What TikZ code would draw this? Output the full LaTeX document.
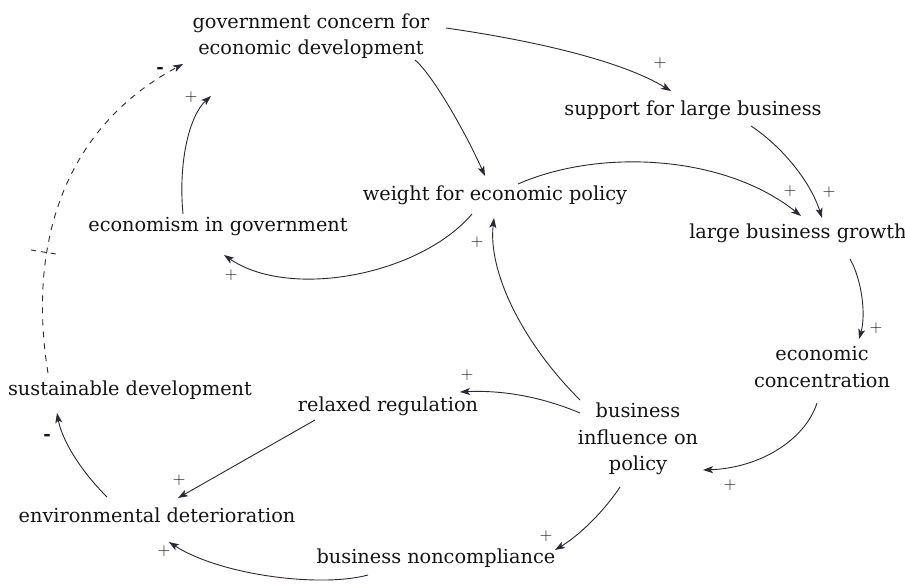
\documentclass[tikz,border=0pt]{standalone}
\usepackage{fontspec}
\setmainfont{DejaVu Serif}
\usetikzlibrary{arrows.meta,calc}
\definecolor{ln}{HTML}{2E2535}
\definecolor{tx}{HTML}{141414}
\begin{document}
\begin{tikzpicture}[x=1pt,y=-1pt,
  var/.style={text=tx, font=\fontsize{19.3}{26.5}\selectfont, align=center, inner sep=0pt},
  link/.style={draw=ln, line width=0.9pt, -{Stealth[length=10pt,width=7pt,inset=2.5pt]}},
  dlink/.style={link, dash pattern=on 6pt off 6pt},
  pol/.style={text=tx, font=\fontsize{17}{17}\selectfont, inner sep=0pt},
  neg/.style={text=tx, font=\fontsize{18}{18}\selectfont\bfseries, inner sep=0pt},
]
\useasboundingbox[fill=white] (0,0) rectangle (905,586);
\node[var] (gov) at (311,36) {government concern for\\economic development};
\node[var] (sup) at (693,110) {support for large business};
\node[var] (wgt) at (495,195) {weight for economic policy};
\node[var] (eco) at (218,227) {economism in government};
\node[var] (lbg) at (798,233) {large business growth};
\node[var] (con) at (822,367) {economic\\concentration};
\node[var] (sus) at (130,390) {sustainable development};
\node[var] (rel) at (388,406) {relaxed regulation};
\node[var] (bip) at (638,439) {business\\influence on\\policy};
\node[var] (env) at (157,515) {environmental deterioration};
\node[var] (bnc) at (436,558) {business noncompliance};

\draw[link] ($(gov)+(135,-8)$) .. controls (530,40) and (620,60) .. ($(sup)+(-22,-19)$);
\draw[link] ($(gov)+(104,24)$) .. controls (430,72) and (462,125) .. ($(wgt)+(-10,-19)$);
\draw[link] ($(sup)+(58,16)$) .. controls (780,145) and (810,180) .. ($(lbg)+(24,-15)$);
\draw[link] ($(wgt)+(23,-11)$) .. controls (600,148) and (725,155) .. ($(lbg)+(3,-17)$);
\draw[link] ($(wgt)+(-23,19)$) .. controls (420,275) and (290,300) .. ($(eco)+(6,28)$);
\draw[link] ($(eco)+(-35,-13)$) .. controls (178,160) and (190,115) .. ($(gov)+(-100,60)$);
\draw[link] ($(bip)+(-58,-39)$) .. controls (520,340) and (488,270) .. ($(wgt)+(-1,23)$);
\draw[link] ($(lbg)+(52,26)$) .. controls (862,280) and (866,315) .. ($(con)+(37,-28)$);
\draw[link] ($(con)+(-5,36)$) .. controls (805,440) and (760,468) .. ($(bip)+(65,31)$);
\draw[link] ($(bip)+(-58,-26)$) .. controls (540,396) and (500,390) .. ($(rel)+(72,-14)$);
\draw[link] ($(bip)+(-18,48)$) .. controls (605,510) and (580,535) .. ($(bnc)+(119,-8)$);
\draw[link] ($(rel)+(-73,14)$) -- ($(env)+(21,-17)$);
\draw[link] ($(bnc)+(-68,17)$) .. controls (320,588) and (220,575) .. ($(env)+(12,27)$);
\draw[link] ($(env)+(-50,-18)$) .. controls (80,470) and (62,440) .. ($(sus)+(-73,23)$);
\draw[dlink] ($(sus)+(-82,-17)$) .. controls (28,250) and (60,130) .. ($(gov)+(-128,28)$);
\draw[ln, line width=0.9pt, dash pattern=on 5pt off 5pt] (31,250) -- (56,254);

\node[pol] (p1) at (660,63) {$+$};
\node[pol] (p2) at (790,191) {$+$};
\node[pol] (p3) at (829,192) {$+$};
\node[pol] (p4) at (231,275) {$+$};
\node[pol] (p5) at (191,97) {$+$};
\node[pol] (p6) at (477,242) {$+$};
\node[pol] (p7) at (876,328) {$+$};
\node[pol] (p8) at (730,485) {$+$};
\node[pol] (p9) at (467,375) {$+$};
\node[pol] (p10) at (546,536) {$+$};
\node[pol] (p11) at (179,480) {$+$};
\node[pol] (p12) at (164,551) {$+$};
\node[neg] (n1) at (47,437) {-};
\node[neg] (n2) at (160,70) {-};
\end{tikzpicture}
\end{document}
